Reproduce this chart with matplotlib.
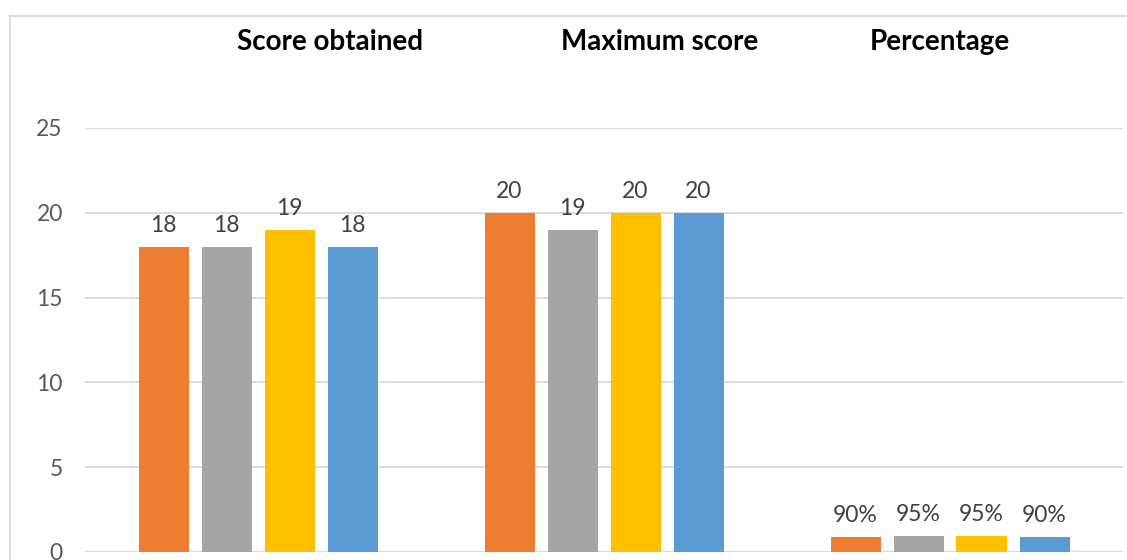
import matplotlib
matplotlib.use("Agg")
import matplotlib.pyplot as plt
from matplotlib.lines import Line2D
import numpy as np

categories = ["Score obtained", "Maximum score", "Percentage"]
series_a = [18, 20, 0.90]
series_b = [18, 19, 0.95]
series_c = [19, 20, 0.95]
series_d = [18, 20, 0.90]
series_colors = ["#ED7D31", "#A5A5A5", "#FFC000", "#5B9BD5"]
y_ticks = [0, 5, 10, 15, 20, 25]

W, H = 1127, 560
fig = plt.figure(figsize=(W / 100, H / 100), dpi=100)
ax = fig.add_axes([85 / W, 1 - 552 / H, (1123 - 85) / W, (552 - 128) / H])

font = "Lato"
x = np.arange(len(categories))
width = 50 / 346
step = 63 / 346
all_series = [series_a, series_b, series_c, series_d]
for i, (vals, col) in enumerate(zip(all_series, series_colors)):
    xs = x + (i - 1.5) * step
    bars = ax.bar(xs, vals, width=width, color=col, zorder=3)
    for j, (xx, v) in enumerate(zip(xs, vals)):
        lab = f"{v*100:.0f}%" if j == 2 else f"{v:g}"
        ax.annotate(lab, (xx, v), xytext=(0, 8), textcoords="offset points",
                    ha="center", va="bottom", fontsize=16.5, color="#404040",
                    family=font)

ax.set_xlim(-0.5, 2.5)
ax.set_ylim(0, 25)
ax.set_yticks(y_ticks)
ax.set_yticklabels([str(t) for t in y_ticks], fontsize=16.5, color="#595959", family=font)
ax.tick_params(axis="y", length=0, pad=16)
ax.set_xticks([])
ax.grid(axis="y", color="#D9D9D9", linewidth=1.3, zorder=0)
for s in ax.spines.values():
    s.set_visible(False)
ax.axhline(0, color="#D9D9D9", linewidth=1.3, zorder=2)

# Category labels at top
label_px = [330, 660, 940]
for lab, px in zip(categories, label_px):
    fig.text(px / W, 1 - 42 / H, lab, ha="center", va="center", fontsize=20,
             fontweight="bold", color="#000000", family=font)

# chart border (partially visible)
fig.add_artist(Line2D([10 / W, 10 / W], [0, 1 - 16 / H], color="#D9D9D9", linewidth=1.3))
fig.add_artist(Line2D([10 / W, 1], [1 - 16 / H, 1 - 16 / H], color="#D9D9D9", linewidth=1.3))

fig.savefig("out.png", dpi=100)
